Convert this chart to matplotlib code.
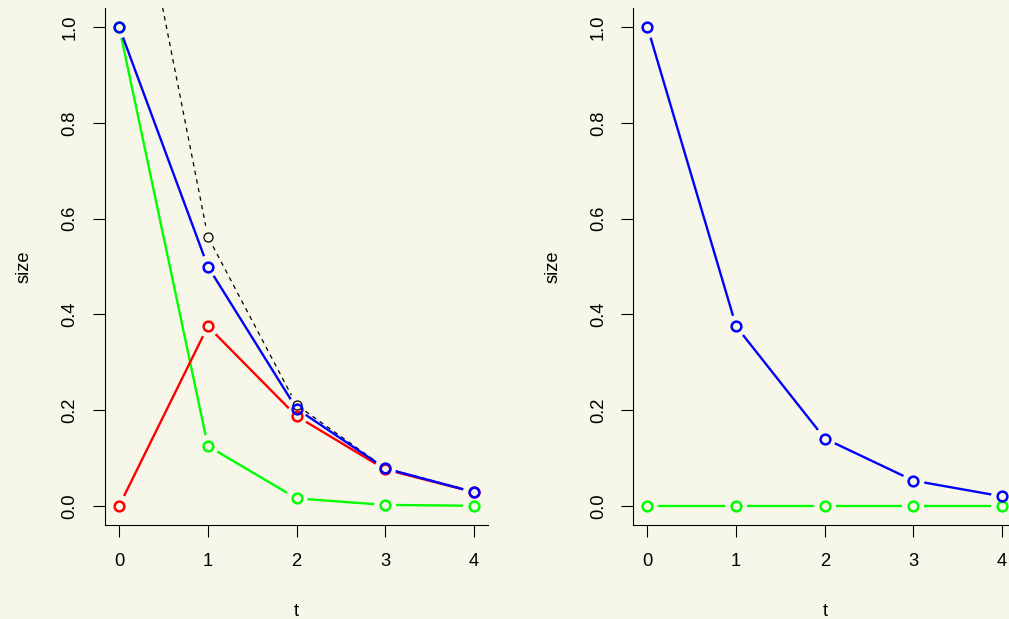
import numpy as np
import matplotlib
matplotlib.use("Agg")
import matplotlib.pyplot as plt

# left panel series
t = [0, 1, 2, 3, 4]
left_black = [1.5, 0.5625, 0.2109, 0.0791, 0.0297]
left_green = [1.0, 0.125, 0.0156, 0.002, 0.0002]
left_red = [0.0, 0.375, 0.1875, 0.0762, 0.0286]
left_blue = [1.0, 0.5, 0.2031, 0.0782, 0.0288]

# right panel series
right_green = [0.0, 0.0, 0.0, 0.0, 0.0]
right_blue = [1.0, 0.375, 0.1406, 0.0527, 0.0198]

BG = "#f7f7e9"
plt.rcParams["font.family"] = ["Liberation Sans", "DejaVu Sans"]
plt.rcParams["font.size"] = 13.2


def type_b(ax, x, y, color, lw=1.7, ls="-", ms=7, mew=1.8, gap=11):
    # R-style type="b": points joined by lines that stop short of each point
    pts = ax.transData.transform(np.column_stack([x, y]))
    inv = ax.transData.inverted()
    for p0, p1 in zip(pts[:-1], pts[1:]):
        d = p1 - p0
        L = np.hypot(*d)
        if L <= 2 * gap:
            continue
        u = d / L
        seg = inv.transform(np.array([p0 + u * gap, p1 - u * gap]))
        ax.plot(seg[:, 0], seg[:, 1], color=color, lw=lw, ls=ls,
                solid_capstyle="butt", dash_capstyle="butt")
    ax.plot(x, y, ls="none", marker="o", mfc="none", mec=color, ms=ms, mew=mew)


def style_axes(ax):
    ax.set_facecolor(BG)
    ax.set_xlim(-0.16, 4.16)
    ax.set_ylim(-0.04, 1.04)
    ax.spines["top"].set_visible(False)
    ax.spines["right"].set_visible(False)
    for s in ("left", "bottom"):
        ax.spines[s].set_linewidth(0.8)
    ax.set_xticks([0, 1, 2, 3, 4])
    ax.set_yticks([0, 0.2, 0.4, 0.6, 0.8, 1.0])
    ax.set_yticklabels(["0.0", "0.2", "0.4", "0.6", "0.8", "1.0"])
    ax.tick_params(length=8.6, width=0.8)
    ax.tick_params(axis="x", pad=11.5)
    ax.tick_params(axis="y", labelrotation=90, pad=10.5)
    for lab in ax.get_yticklabels():
        lab.set_va("center")
    ax.set_xlabel("t", labelpad=24)
    ax.set_ylabel("size", labelpad=20.5)


fig = plt.figure(figsize=(10.09, 6.19), dpi=100, facecolor=BG)
ax1 = fig.add_axes([105 / 1009, 94 / 619, 383 / 1009, 517 / 619])
ax2 = fig.add_axes([633.3 / 1009, 94 / 619, 383 / 1009, 517 / 619])
style_axes(ax1)
style_axes(ax2)

type_b(ax1, t, left_black, "black", lw=0.9, ls=(0, (3.5, 3.5)), ms=6.5, mew=0.9)
type_b(ax1, t, left_green, "#00ff00")
type_b(ax1, t, left_red, "#ff0000")
type_b(ax1, t, left_blue, "#0000ff")

type_b(ax2, t, right_green, "#00ff00")
type_b(ax2, t, right_blue, "#0000ff")

fig.savefig("out.png", dpi=100, facecolor=BG)
